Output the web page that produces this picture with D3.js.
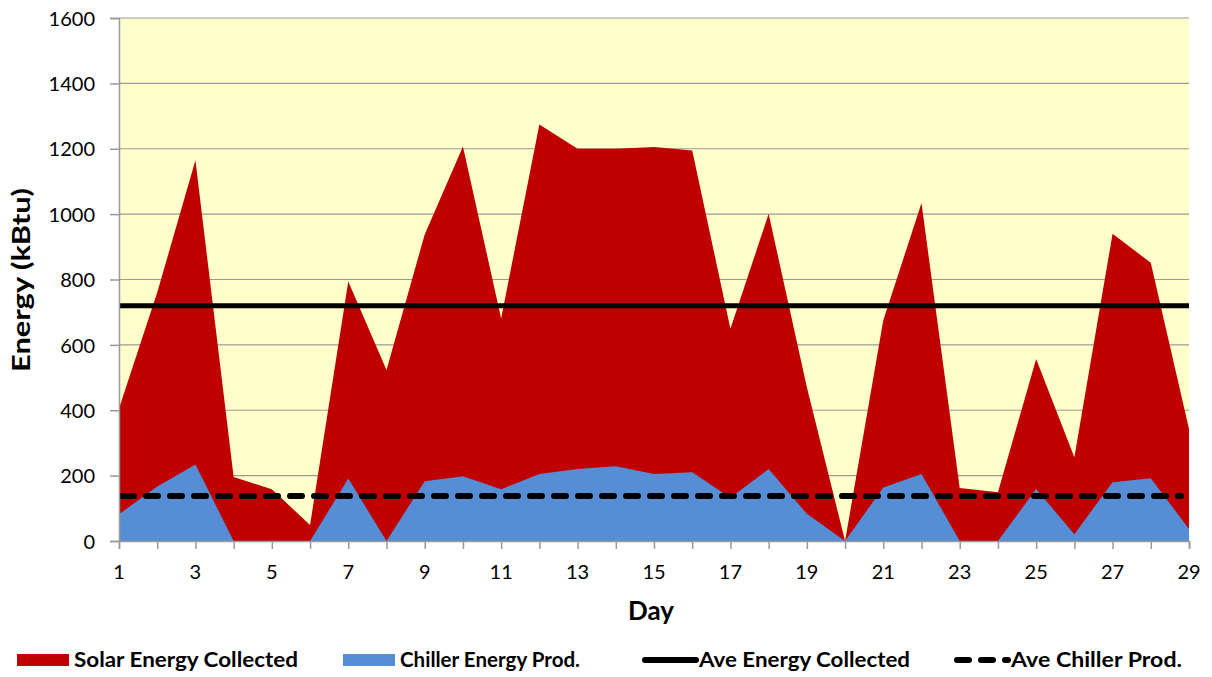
<!DOCTYPE html>
<html>
<head>
<meta charset="utf-8">
<script src="https://cdn.jsdelivr.net/npm/d3@7"></script>
<style>
  body { margin: 0; background: #fff; }
  svg text { font-family: Lato, "Open Sans", sans-serif; fill: #000; }
</style>
</head>
<body>
<div class="chart"></div>
<script>
// days on the x axis
const days = d3.range(1, 30);
const dayLabels = [1, 3, 5, 7, 9, 11, 13, 15, 17, 19, 21, 23, 25, 27, 29];
const yTicks = [0, 200, 400, 600, 800, 1000, 1200, 1400, 1600];

// Solar Energy Collected (kBtu)
const solar = [405, 760, 1165, 196, 158, 49, 794, 523, 938, 1207, 681, 1274, 1200, 1200,
  1205, 1195, 649, 1001, 470, 0, 675, 1034, 162, 149, 557, 256, 940, 851, 343];
// Chiller Energy Prod. (kBtu)
const chiller = [82, 167, 234, 0, 0, 0, 191, 0, 183, 198, 158, 205, 220, 229,
  205, 210, 132, 220, 83, 0, 164, 205, 0, 0, 159, 21, 180, 192, 37];
// averages
const aveEnergy = 720;
const aveChiller = 138;

const legendItems = [
  { name: 'Solar Energy Collected', type: 'rect', color: '#C00000', x: 17, len: 224 },
  { name: 'Chiller Energy Prod.', type: 'rect', color: '#558ED5', x: 343, len: 180 },
  { name: 'Ave Energy Collected', type: 'line', dash: null, x: 642, len: 211 },
  { name: 'Ave Chiller Prod.', type: 'line', dash: '12,12', x: 954, len: 171 }
];

const W = 1212, H = 677;
const m = { left: 119, right: 1189, top: 18, bottom: 541 };

const svg = d3.select('.chart').append('svg')
  .attr('width', W).attr('height', H);

const x = d3.scaleLinear().domain([1, 29]).range([m.left, m.right]);
const y = d3.scaleLinear().domain([0, 1600]).range([m.bottom, m.top]);

// 背景
svg.append('rect')
  .attr('x', m.left).attr('y', m.top)
  .attr('width', m.right - m.left).attr('height', m.bottom - m.top)
  .attr('fill', '#FFFFCC');

// grid lines
svg.append('g').selectAll('line')
  .data(yTicks.slice(1))
  .enter().append('line')
  .attr('x1', m.left).attr('x2', m.right)
  .attr('y1', d => y(d)).attr('y2', d => y(d))
  .attr('stroke', '#999').attr('stroke-width', 1.2);

// areas
const area = (vals) => d3.area()
  .x((d, i) => x(days[i]))
  .y0(y(0))
  .y1(d => y(d))(vals);

svg.append('path').attr('d', area(solar)).attr('fill', '#C00000');
svg.append('path').attr('d', area(chiller)).attr('fill', '#558ED5');

// average lines
svg.append('line')
  .attr('x1', m.left).attr('x2', m.right)
  .attr('y1', y(aveEnergy)).attr('y2', y(aveEnergy))
  .attr('stroke', '#000').attr('stroke-width', 5);
svg.append('line')
  .attr('x1', m.left + 3).attr('x2', m.right - 8)
  .attr('y1', y(aveChiller)).attr('y2', y(aveChiller))
  .attr('stroke', '#000').attr('stroke-width', 6)
  .attr('stroke-dasharray', '12,12').attr('stroke-linecap', 'round');

// axes
const yAxis = svg.append('g')
  .attr('transform', `translate(${m.left},0)`)
  .call(d3.axisLeft(y).tickValues(yTicks).tickSize(9).tickPadding(15).tickFormat(d3.format('d')));
const xAxis = svg.append('g')
  .attr('transform', `translate(0,${m.bottom})`)
  .call(d3.axisBottom(x).tickValues(days).tickSize(8).tickFormat(''));

[yAxis, xAxis].forEach(g => {
  g.select('.domain').attr('stroke', '#999').attr('stroke-width', 1.5);
  g.selectAll('.tick line').attr('stroke', '#999').attr('stroke-width', 1.5);
});
yAxis.selectAll('.tick text').attr('font-size', 20).attr('fill', '#000')
  .attr('dy', '0.36em')
  .style('font-family', 'Lato, sans-serif');

svg.append('g').selectAll('text')
  .data(dayLabels)
  .enter().append('text')
  .attr('x', d => x(d)).attr('y', 579)
  .attr('text-anchor', 'middle')
  .attr('font-size', 20)
  .text(d => d);

// axis titles
svg.append('text')
  .attr('x', 651).attr('y', 620)
  .attr('text-anchor', 'middle')
  .attr('font-size', 26).attr('font-weight', 'bold')
  .text('Day');
svg.append('text')
  .attr('transform', 'translate(30,280) rotate(-90)')
  .attr('text-anchor', 'middle')
  .attr('font-size', 25).attr('font-weight', 'bold')
  .attr('textLength', 184).attr('lengthAdjust', 'spacingAndGlyphs')
  .text('Energy (kBtu)');

// legend
const lg = svg.append('g').selectAll('g')
  .data(legendItems)
  .enter().append('g')
  .attr('transform', d => `translate(${d.x},660)`);
lg.filter(d => d.type === 'rect').append('rect')
  .attr('x', 0).attr('y', -6).attr('width', 52).attr('height', 12)
  .attr('fill', d => d.color);
lg.filter(d => d.type === 'line').append('line')
  .attr('x1', 3).attr('x2', 54).attr('y1', 0).attr('y2', 0)
  .attr('stroke', '#000').attr('stroke-width', 6)
  .attr('stroke-linecap', 'round')
  .attr('stroke-dasharray', d => d.dash);
lg.append('text')
  .attr('x', 57).attr('y', 7)
  .attr('font-size', 21).attr('font-weight', 'bold')
  .attr('textLength', d => d.len).attr('lengthAdjust', 'spacingAndGlyphs')
  .text(d => d.name);
</script>
</body>
</html>
